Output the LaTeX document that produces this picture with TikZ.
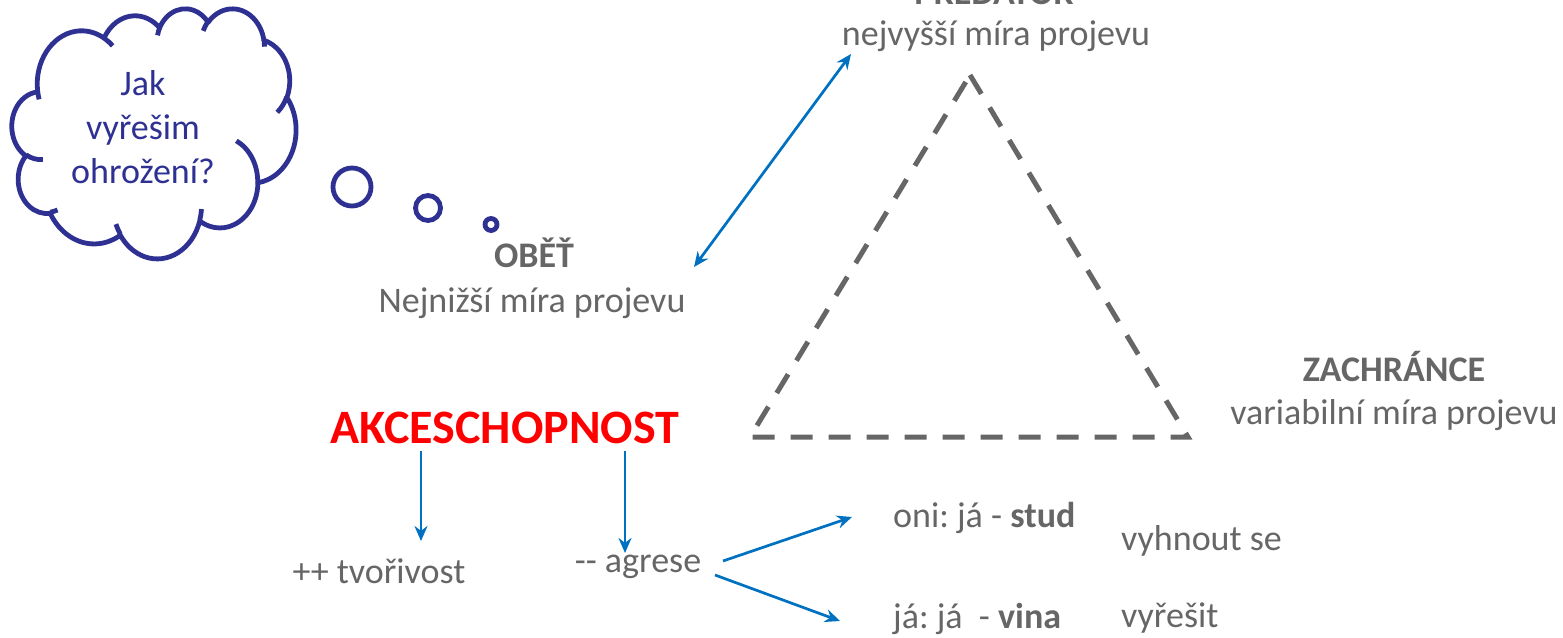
\documentclass[tikz,border=0pt]{standalone}
\usepackage{fontspec}
\setmainfont{Carlito}
\frenchspacing
\usetikzlibrary{arrows.meta}
\definecolor{txtgray}{RGB}{102,102,102}
\definecolor{arrblue}{RGB}{0,112,192}
\definecolor{navy}{RGB}{46,49,146}
\definecolor{akred}{RGB}{255,0,0}
\tikzset{
  body/.style={text=txtgray,font=\fontsize{36}{42}\selectfont,anchor=base,inner sep=0pt},
  head/.style={text=txtgray,font=\fontsize{36}{42}\selectfont\bfseries,anchor=base,inner sep=0pt},
  conn/.style={draw=arrblue,line width=2.7pt,-{Stealth[length=15pt,width=13pt]}},
  dconn/.style={draw=arrblue,line width=2.7pt,{Stealth[length=15pt,width=13pt]}-{Stealth[length=15pt,width=13pt]}},
  tri/.style={draw=txtgray,line width=5pt,dash pattern=on 22pt off 16pt},
  bubble/.style={draw=navy,line width=4.8pt},
}
% elliptic arc with visual start angle and sweep (DrawingML arcTo)
\newcommand\carc[4]{arc[x radius=#1, y radius=#2,
  start angle={atan2((#1)*sin(#3),(#2)*cos(#3))},
  delta angle={mod(atan2((#1)*sin((#3)+(#4)),(#2)*cos((#3)+(#4)))-atan2((#1)*sin(#3),(#2)*cos(#3))+720,360)}]}
\begin{document}
\begin{tikzpicture}[x=1pt,y=-1pt]
\useasboundingbox (0,0) rectangle (1563,637);
% thought cloud
\begin{scope}[xshift=12pt,yshift=-8pt,x=0.6574pt,y=-0.5787pt]
\draw[bubble,line join=round] (39.00,143.70)
  \carc{67.53}{91.90}{-190.48748}{123.78053}
  \carc{53.33}{72.67}{-144.10238}{89.94523}
  \carc{43.65}{59.45}{-145.80792}{99.72302}
  \carc{48.57}{65.95}{-130.98607}{117.24173}
  \carc{53.33}{72.73}{-78.70888}{109.02692}
  \carc{67.75}{92.20}{-46.26725}{130.269}
  \carc{57.85}{78.67}{0.62502}{114.03333}
  \carc{67.52}{92.15}{22.4516}{115.17255}
  \carc{77.20}{105.43}{66.24263}{75.71102}
  \carc{43.60}{59.18}{-274.94208}{146.73557}
  \carc{43.45}{59.45}{-246.8285}{152.51885}
  -- cycle;
\draw[bubble]
  (46.93,261.77) \carc{43.45}{59.45}{86.742}{26.4295}
  (69.28,348.99) \carc{43.60}{59.18}{73.61047}{11.44747}
  (164.78,390.90) \carc{67.52}{92.15}{137.62415}{14.0811}
  (288.27,347.51) \carc{67.52}{92.15}{6.45327}{15.99835}
  (341.29,229.54) \carc{57.85}{78.67}{-70.29235}{72.392}
  (417.98,153.54) \carc{53.33}{72.73}{30.31803}{27.7515}
  (383.24,54.26) \carc{48.57}{65.95}{-13.74433}{14.8547}
  (290.78,39.52) \carc{48.57}{65.95}{-149.18145}{18.19537}
  (221.41,47.20) \carc{43.65}{59.45}{-163.49427}{17.68635}
  (140.00,51.92) \carc{67.53}{91.90}{-66.70695}{12.31935}
  (41.27,157.89) \carc{67.53}{91.90}{157.65435}{11.85817};
\end{scope}
\node[text=navy,font=\fontsize{36}{44}\selectfont,align=center,anchor=base,inner sep=0pt] (q) at (143,183) {Jak\\vyřešim\\ohrožení?};
\draw[bubble] (352,187) circle (19pt);
\draw[bubble] (428,208) circle (12.5pt);
\draw[bubble] (491,224.5) circle (6pt);
% triangle
\coordinate (apex) at (970,75);
\coordinate (bl) at (750,437);
\coordinate (br) at (1188,437);
\draw[tri] (apex) -- (br) -- (bl) -- cycle;
% labels
\node[head] (pred) at (994,5) {PREDÁTOR};
\node[body] (predt) at (996,45) {nejvyšší míra projevu};
\node[head] (obet) at (534,267) {OBĚŤ};
\node[body] (obett) at (532,312) {Nejnižší míra projevu};
\node[head] (zach) at (1394,381) {ZACHRÁNCE};
\node[body] (zacht) at (1394,424) {variabilní míra projevu};
\node[text=akred,font=\fontsize{48}{56}\selectfont\bfseries,anchor=base,inner sep=0pt] (ak) at (505,443) {AKCESCHOPNOST};
\node[body] (tvor) at (379,583) {++ tvořivost};
\node[body] (agr) at (638,572) {-{}- agrese};
\node[body,anchor=base west] (stud) at (893,527) {oni: já - \textbf{stud}};
\node[body,anchor=base west] (vina) at (893,628) {já: já \ - \textbf{vina}};
\node[body,anchor=base west] (vyh) at (1121,550) {vyhnout se};
\node[body,anchor=base west] (vyr) at (1121,627) {vyřešit};
% connectors
\coordinate (d1) at (694,267);
\coordinate (d2) at (851,54);
\draw[dconn] (d1) -- (d2);
\coordinate (a1s) at (421,451);
\coordinate (a1e) at (421,541);
\draw[conn] (a1s) -- (a1e);
\coordinate (a2s) at (625,451);
\coordinate (a2e) at (625,553);
\draw[conn] (a2s) -- (a2e);
\coordinate (a3s) at (723,561);
\coordinate (a3e) at (852,517);
\draw[conn] (a3s) -- (a3e);
\coordinate (a4s) at (715,575);
\coordinate (a4e) at (840,621);
\draw[conn] (a4s) -- (a4e);
\end{tikzpicture}
\end{document}
